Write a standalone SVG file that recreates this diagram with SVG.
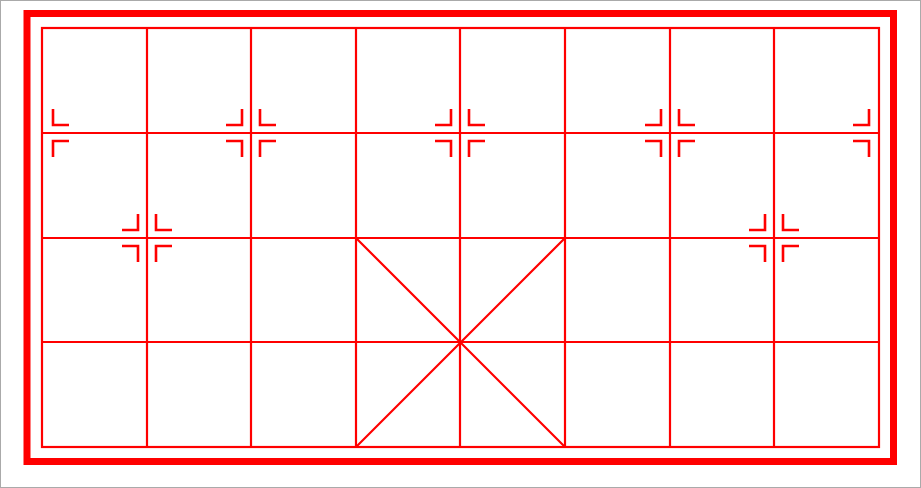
<svg xmlns="http://www.w3.org/2000/svg" width="921" height="488" viewBox="0 0 921 488">
<style>
.g{stroke:#ff0000;stroke-width:2.2;fill:none}
.m{stroke:#ff0000;stroke-width:2.6;fill:none}
</style>
<defs>
<g id="mk">
<path class="m" d="M-9,-24 V-8 H-25 M9,-24 V-8 H25 M-9,24 V8 H-25 M9,24 V8 H25"/>
</g>
<g id="mkR">
<path class="m" d="M11,-24 V-8 H27 M11,24 V8 H27"/>
</g>
<g id="mkL">
<path class="m" d="M-10,-24 V-8 H-26 M-10,24 V8 H-26"/>
</g>
</defs>
<rect x="0.5" y="0.5" width="920" height="487" fill="#ffffff" stroke="#aaaaaa" stroke-width="1"/>
<g id="frame">
<rect x="27" y="13.5" width="866.5" height="448" fill="none" stroke="#ff0000" stroke-width="7"/>
<rect x="42" y="28" width="837" height="419" class="g"/>
</g>
<g id="grid">
<path class="g" d="M42,133 H879 M42,238 H879 M42,342 H879"/>
<path class="g" d="M147,28 V447 M251,28 V447 M356,28 V447 M460,28 V447 M565,28 V447 M670,28 V447 M774,28 V447"/>
<path class="g" d="M356,238 L565,447 M565,238 L356,447"/>
</g>
<g id="markers">
<use href="#mkR" x="42" y="133"/>
<use href="#mk" x="251" y="133"/>
<use href="#mk" x="460" y="133"/>
<use href="#mk" x="670" y="133"/>
<use href="#mkL" x="879" y="133"/>
<use href="#mk" x="147" y="238"/>
<use href="#mk" x="774" y="238"/>
</g>
</svg>
